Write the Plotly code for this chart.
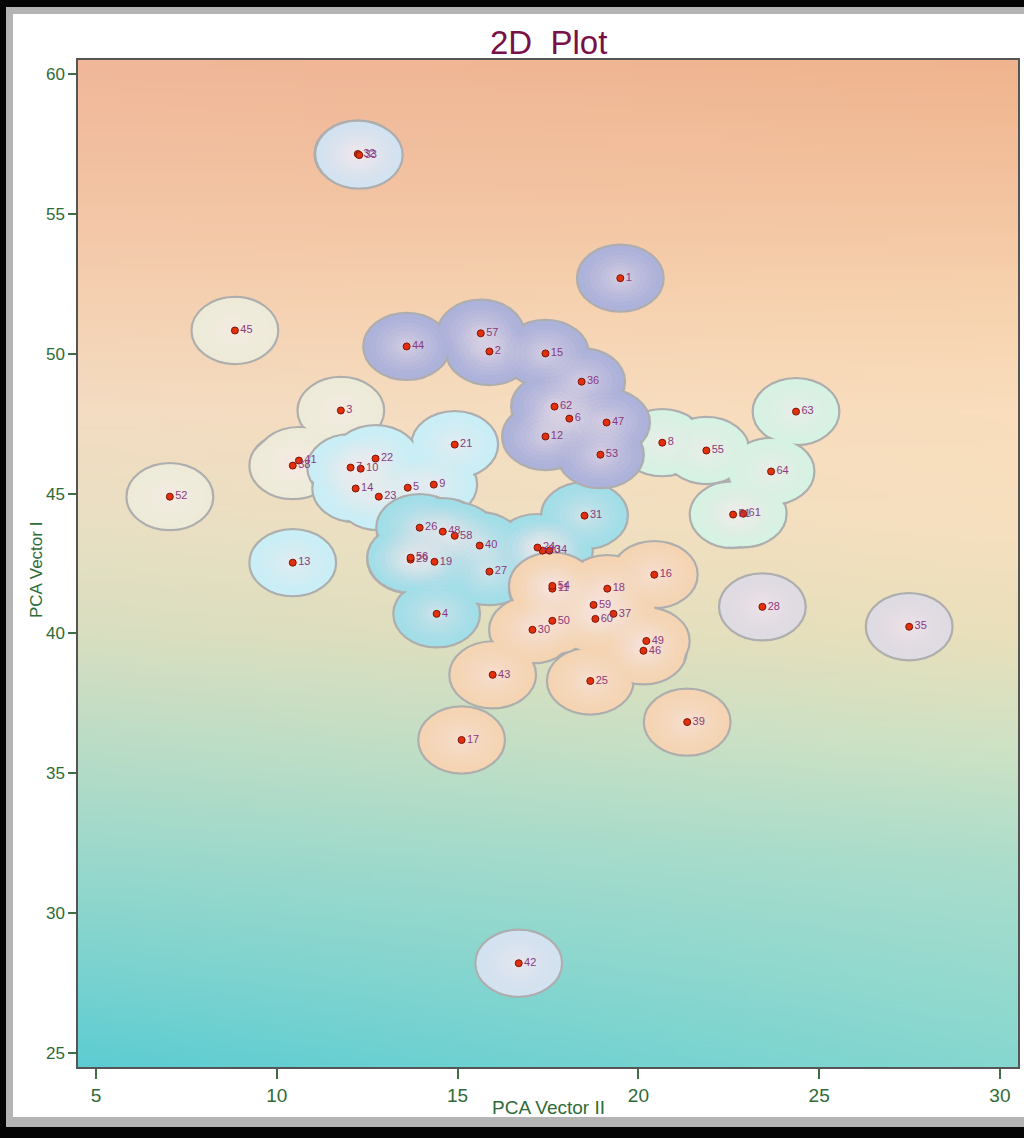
import base64, struct, zlib
import plotly.graph_objects as go

# ---------------- data ----------------
labels = list(range(1, 65))
pca_vector_ii = [19.50, 15.88, 11.77, 14.42, 13.62, 18.09, 12.04, 20.66, 14.34, 12.32,
                 17.62, 17.43, 10.44, 12.18, 17.43, 20.44, 15.11, 19.14, 14.36, 17.35,
                 14.92, 12.73, 12.82, 17.21, 18.67, 13.95, 15.88, 23.43, 13.70, 17.07,
                 18.51, 12.24, 12.28, 17.54, 27.49, 18.43, 19.31, 10.44, 21.35, 15.61,
                 10.61, 16.69, 15.97, 13.59, 8.84, 20.14, 19.12, 14.59, 20.22, 17.62,
                 22.62, 7.04, 18.95, 17.62, 21.88, 13.70, 15.64, 14.92, 18.76, 18.81,
                 22.90, 17.68, 24.36, 23.67]
pca_vector_i = [52.70, 50.08, 47.97, 40.70, 45.21, 47.68, 45.93, 46.82, 45.32, 45.89,
                41.60, 47.04, 42.53, 45.18, 50.01, 42.10, 36.19, 41.60, 42.56, 42.96,
                46.75, 46.25, 44.89, 43.07, 38.30, 43.78, 42.21, 40.95, 42.64, 40.13,
                44.21, 57.14, 57.10, 42.96, 40.24, 49.00, 40.70, 46.00, 36.83, 43.14,
                46.18, 28.21, 38.52, 50.26, 50.83, 39.38, 47.54, 43.64, 39.73, 40.45,
                44.25, 44.89, 46.39, 41.70, 46.54, 42.71, 50.73, 43.49, 41.02, 40.52,
                44.28, 48.11, 47.93, 45.79]
cluster = ["A", "A", "F", "C", "B", "A", "B", "E", "B", "B",
           "D", "A", "B", "B", "A", "D", "D", "D", "C", "C",
           "B", "B", "B", "C", "D", "C", "C", "G", "C", "D",
           "C", "H", "H", "C", "G", "A", "D", "F", "D", "C",
           "F", "H", "D", "A", "F", "D", "A", "C", "D", "D",
           "E", "F", "A", "D", "E", "C", "A", "C", "D", "D",
           "E", "A", "E", "E"]
cluster_order = ["F", "B", "C", "D", "E", "A", "G", "H"]
cluster_colors = {"A": "#ADB2DA", "B": "#C9EEF6", "C": "#A2DEE8", "D": "#F4D4B3",
                  "E": "#D6F2E3", "F": "#EDEBD8", "G": "#DFDBE2", "H": "#D2E2F1"}
x_ticks = [5, 10, 15, 20, 25, 30]
y_ticks = [25, 30, 35, 40, 45, 50, 55, 60]
x_range = [4.5, 30.5]
y_range = [24.5, 60.5]
radius = 1.2

# ---------------- background gradient image ----------------
grad_y = [60.5, 56, 52, 48, 44, 40, 36, 32, 28, 24.5]
grad_left = ["F0B799", "F2C3A3", "F4D0B1", "F3DCC2", "E9DFC3", "D9DEC0", "BADCC6", "9AD8CB", "7AD2CF", "5CCCD2"]
grad_right = ["EFB48E", "F3C29E", "F7D2AE", "F9DDBC", "F7DFBE", "EADFBB", "CFE2C4", "ADDDCB", "98DACE", "86D7CF"]


def hex2rgb(h):
    return [int(h[i:i + 2], 16) for i in (0, 2, 4)]


def interp_col(stops_y, cols, yv):
    for i in range(len(stops_y) - 1):
        a, b = stops_y[i], stops_y[i + 1]
        if a >= yv >= b:
            t = (a - yv) / (a - b)
            c1, c2 = hex2rgb(cols[i]), hex2rgb(cols[i + 1])
            return [c1[k] + (c2[k] - c1[k]) * t for k in range(3)]
    return hex2rgb(cols[-1] if yv < stops_y[-1] else cols[0])


W, H = 40, 200
rows = []
for r in range(H):
    yv = y_range[1] - (r + 0.5) / H * (y_range[1] - y_range[0])
    cl = interp_col(grad_y, grad_left, yv)
    cr = interp_col(grad_y, grad_right, yv)
    row = bytearray([0])
    for c in range(W):
        t = (c + 0.5) / W
        row += bytes(int(round(cl[k] + (cr[k] - cl[k]) * t)) for k in range(3))
    rows.append(bytes(row))


def chunk(tag, data):
    return struct.pack(">I", len(data)) + tag + data + struct.pack(">I", zlib.crc32(tag + data) & 0xffffffff)


png = (b"\x89PNG\r\n\x1a\n" + chunk(b"IHDR", struct.pack(">IIBBBBB", W, H, 8, 2, 0, 0, 0))
       + chunk(b"IDAT", zlib.compress(b"".join(rows))) + chunk(b"IEND", b""))
bg_uri = "data:image/png;base64," + base64.b64encode(png).decode()

# ---------------- figure ----------------
fig = go.Figure()

shapes = []
glow_layers = [(1.0, 0.05), (0.85, 0.06), (0.7, 0.07), (0.55, 0.08), (0.42, 0.09), (0.3, 0.11), (0.18, 0.13)]
for cl in cluster_order:
    idx = [i for i, c in enumerate(cluster) if c == cl]
    col = cluster_colors[cl]
    for i in idx:
        x, y = pca_vector_ii[i], pca_vector_i[i]
        shapes.append(dict(type="circle", xref="x", yref="y", layer="below",
                           x0=x - radius, x1=x + radius, y0=y - radius, y1=y + radius,
                           fillcolor=col, line=dict(color="#AEAEAE", width=2.2)))
    for i in idx:
        x, y = pca_vector_ii[i], pca_vector_i[i]
        rr = radius - 0.05
        shapes.append(dict(type="circle", xref="x", yref="y", layer="below",
                           x0=x - rr, x1=x + rr, y0=y - rr, y1=y + rr,
                           fillcolor=col, line=dict(width=0)))
    for i in idx:
        x, y = pca_vector_ii[i], pca_vector_i[i]
        for rr, a in glow_layers:
            shapes.append(dict(type="circle", xref="x", yref="y", layer="below",
                               x0=x - rr, x1=x + rr, y0=y - rr, y1=y + rr,
                               fillcolor=f"rgba(255,238,240,{a})", line=dict(width=0)))

# frame around the picture (paper coords based on plot area 78..1018 x 60..1067)
PL, PR, PT, PB = 78, 1018, 60, 1067
pw, ph = PR - PL, PB - PT


def px(xp):
    return (xp - PL) / pw


def py(yp):
    return 1 - (yp - PT) / ph


def frame_rect(x0, y0, x1, y1, color):
    return dict(type="rect", xref="paper", yref="paper", layer="above",
                x0=px(x0), x1=px(x1), y0=py(y1), y1=py(y0),
                fillcolor=color, line=dict(width=0))


shapes += [
    frame_rect(0, 7, 1024, 14, "#B4B4B4"),
    frame_rect(6, 0, 13, 1138, "#B4B4B4"),
    frame_rect(0, 1117, 1024, 1127, "#B4B4B4"),
    frame_rect(0, 0, 1024, 7, "#050505"),
    frame_rect(0, 0, 6, 1138, "#050505"),
    frame_rect(0, 1127, 1024, 1138, "#050505"),
]

fig.add_trace(go.Scatter(
    x=pca_vector_ii, y=pca_vector_i, text=[str(l) for l in labels],
    mode="markers+text", textposition="middle right",
    textfont=dict(family="Liberation Sans, Arial", size=11, color="#8A3A7C"),
    marker=dict(size=7, color="#E3300C", line=dict(color="#7A1508", width=1)),
    cliponaxis=False, hoverinfo="text", showlegend=False))

fig.update_layout(
    width=1024, height=1138,
    margin=dict(l=PL, r=1024 - PR, t=PT, b=1138 - PB, autoexpand=False),
    paper_bgcolor="white", plot_bgcolor="rgba(0,0,0,0)",
    shapes=shapes,
    images=[dict(source=bg_uri, xref="paper", yref="paper", x=0, y=1, sizex=1, sizey=1,
                 xanchor="left", yanchor="top", sizing="stretch", layer="below")],
    xaxis=dict(range=x_range, tickvals=x_ticks, showgrid=False, zeroline=False,
               ticks="outside", ticklen=10, tickwidth=1.5, tickcolor="#3E6E46",
               showline=True, linecolor="#555555", linewidth=1.5, mirror=True,
               tickfont=dict(family="Liberation Sans Narrow, Arial Narrow, Liberation Sans", size=19, color="#2F6B38")),
    yaxis=dict(range=y_range, tickvals=y_ticks, showgrid=False, zeroline=False,
               ticks="outside", ticklen=8, tickwidth=1.5, tickcolor="#3E6E46",
               showline=True, linecolor="#555555", linewidth=1.5, mirror=True,
               tickfont=dict(family="Liberation Sans, Arial", size=17, color="#2F6B38")),
    annotations=[
        dict(text="2D\u00a0 Plot", xref="paper", yref="paper", x=0.5, y=py(42),
             xanchor="center", yanchor="middle", showarrow=False,
             font=dict(family="Liberation Sans, Arial", size=33, color="#7A1048")),
        dict(text="PCA Vector II", xref="paper", yref="paper", x=0.5, y=py(1107),
             xanchor="center", yanchor="middle", showarrow=False,
             font=dict(family="Liberation Sans Narrow, Arial Narrow, Liberation Sans", size=19, color="#2F6B38")),
        dict(text="PCA Vector I", xref="paper", yref="paper", x=px(36), y=py(570),
             xanchor="center", yanchor="middle", showarrow=False, textangle=-90,
             font=dict(family="Liberation Sans Narrow, Arial Narrow, Liberation Sans", size=17, color="#2F6B38")),
    ],
)

fig.write_html("out.html", config={"displayModeBar": False},
               post_script="document.body.style.margin='0';document.body.style.padding='0';"
                           "document.body.style.overflow='hidden';")
